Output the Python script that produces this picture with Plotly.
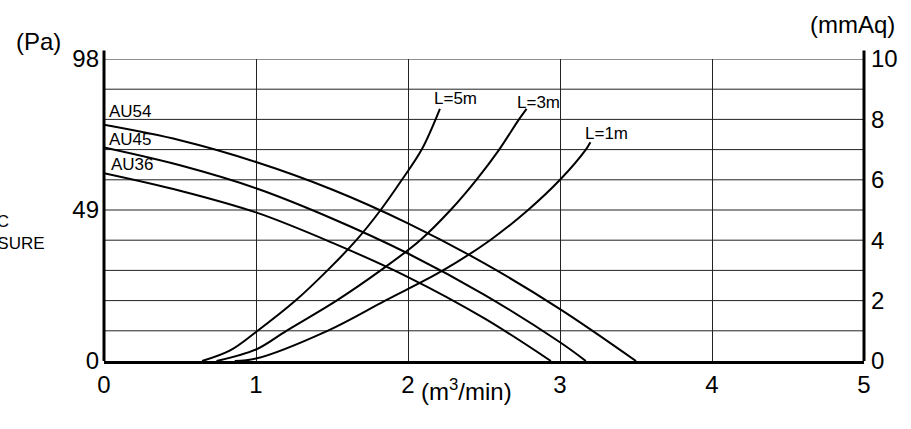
import plotly.graph_objects as go

# ==============================
# DATOS (caudal m3/min, presion mmAq)
# ==============================

fan_names = ["AU54", "AU45", "AU36"]
fan_x = [
    [0, 0.5, 1, 1.5, 2, 2.5, 3, 3.5],
    [0, 0.5, 1, 1.5, 2, 2.5, 3, 3.17],
    [0, 0.5, 1, 1.5, 2, 2.5, 2.94],
]
fan_y = [
    [7.82, 7.31, 6.59, 5.68, 4.56, 3.24, 1.72, 0],
    [7.07, 6.48, 5.72, 4.72, 3.56, 2.2, 0.62, 0],
    [6.22, 5.64, 4.92, 3.92, 2.78, 1.42, 0],
]

duct_names = ["L=5m", "L=3m", "L=1m"]
duct_x = [
    [0.645, 0.83, 1, 1.26, 1.47, 1.66, 1.82, 1.96, 2.09, 2.21],
    [0.74, 1, 1.2, 1.53, 1.82, 2.08, 2.28, 2.45, 2.6, 2.73, 2.78],
    [0.86, 1, 1.47, 1.85, 2.23, 2.54, 2.79, 3.0, 3.17, 3.2],
]
duct_y = [
    [0, 0.35, 0.96, 2, 3, 4, 5, 6, 7, 8.35],
    [0, 0.38, 1, 2, 3, 4, 5, 6, 7, 8, 8.35],
    [0, 0.08, 1, 2, 3, 4, 5, 6, 7, 7.24],
]

x_ticks = [0, 1, 2, 3, 4, 5]
pa_vals = [0, 5, 10]
pa_text = ["0", "49", "98"]
mmaq_ticks = [0, 2, 4, 6, 8, 10]

FONT = "Liberation Sans, Arial, sans-serif"

fig = go.Figure()

for xs, ys in zip(fan_x + duct_x, fan_y + duct_y):
    fig.add_trace(go.Scatter(
        x=xs, y=ys, mode="lines",
        line=dict(color="black", width=2, shape="spline", smoothing=1.0),
        hoverinfo="skip", showlegend=False,
    ))

# eje derecho (mmAq)
fig.add_trace(go.Scatter(x=[0], y=[0], yaxis="y2", mode="markers",
                         marker=dict(opacity=0), hoverinfo="skip", showlegend=False))

# etiquetas de curvas
fan_lab = [(0.02, 8.27), (0.02, 7.34), (0.035, 6.5)]
duct_lab = [(2.155, 8.7), (2.705, 8.57), (3.154, 7.54)]
for name, (lx, ly) in zip(fan_names + duct_names, fan_lab + duct_lab):
    fig.add_annotation(x=lx, y=ly, text=name, showarrow=False,
                       xanchor="left", yanchor="middle",
                       font=dict(size=17, color="black", family=FONT))

# textos de unidades
unit_font = dict(size=24, color="black", family=FONT)
fig.add_annotation(xref="paper", yref="paper", x=-0.0868, y=1.0596, text="(Pa)",
                   xanchor="center", yanchor="middle", showarrow=False, font=unit_font)
fig.add_annotation(xref="paper", yref="paper", x=0.9855, y=1.1126, text="(mmAq)",
                   xanchor="center", yanchor="middle", showarrow=False, font=unit_font)
fig.add_annotation(xref="paper", yref="paper", x=0.477, y=-0.095,
                   text="(m<sup>3</sup>/min)", xanchor="center", yanchor="middle",
                   showarrow=False, font=unit_font)
fig.add_annotation(xref="paper", yref="paper", x=-0.2033, y=0.427,
                   text="STATIC<br>PRESSURE", align="left", xanchor="left",
                   yanchor="middle", showarrow=False,
                   font=dict(size=17, color="black", family=FONT))

# lineas verticales de los ejes (sobresalen por arriba)
for px in [0, 1]:
    fig.add_shape(type="line", xref="paper", yref="paper",
                  x0=px, x1=px, y0=0, y1=1.028,
                  line=dict(color="black", width=3))

fig.update_layout(
    width=911, height=429,
    margin=dict(l=104, r=47, t=59, b=68),
    paper_bgcolor="white", plot_bgcolor="white",
    font=dict(family=FONT, color="black"),
    xaxis=dict(range=[0, 5], tickvals=x_ticks, showgrid=True,
               gridcolor="#222", gridwidth=1, zeroline=False,
               showline=True, linecolor="black", linewidth=3,
               ticks="", ticklabelstandoff=0,
               tickfont=dict(size=24, family=FONT)),
    yaxis=dict(range=[0, 10], tickvals=pa_vals, ticktext=pa_text,
               showgrid=False, zeroline=False, showline=False,
               ticks="", ticklabelstandoff=4,
               tickfont=dict(size=24, family=FONT)),
    yaxis2=dict(range=[0, 10], overlaying="y", side="right",
                tickvals=mmaq_ticks, showgrid=False,
                zeroline=False, showline=False, ticks="",
                ticklabelstandoff=6, tickfont=dict(size=24, family=FONT)),
)

# rejilla horizontal cada 1 mmAq
for gy in range(1, 11):
    fig.add_shape(type="line", xref="paper", yref="y", x0=0, x1=1, y0=gy, y1=gy,
                  line=dict(color="#222", width=1), layer="below")

# sin margen del body para que la figura empiece en (0, 0)
fig.write_html("out.html", config={"displayModeBar": False},
               post_script="document.body.style.margin='0';")
